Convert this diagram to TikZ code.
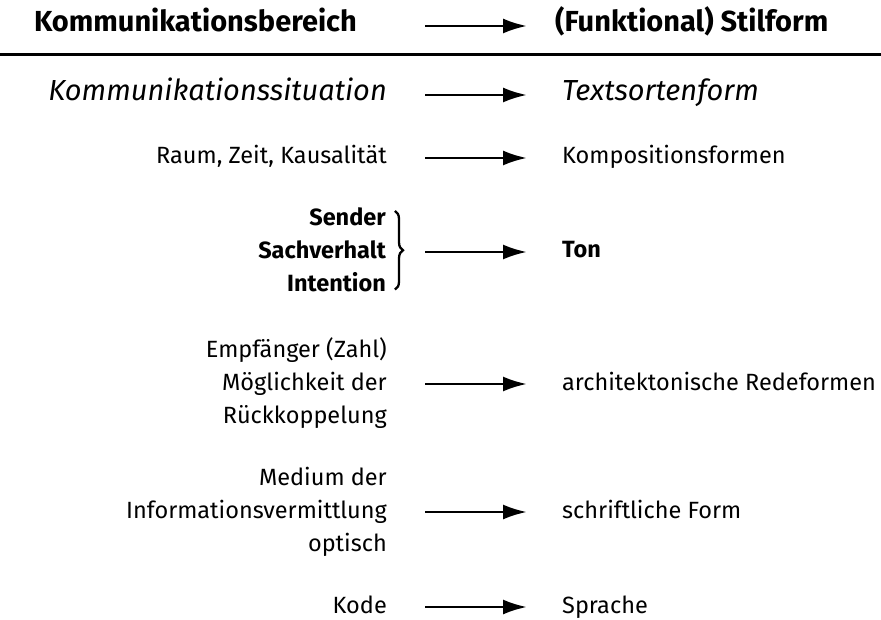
\documentclass[tikz,border=0pt]{standalone}
\usepackage{fontspec}
\setmainfont{Fira Sans}
\usetikzlibrary{arrows.meta,decorations.pathreplacing}

\tikzset{
  kopf/.style={inner sep=0pt, font=\fontsize{29}{33}\selectfont\bfseries},
  kursiv/.style={inner sep=0pt, font=\fontsize{29}{33}\selectfont\itshape},
  links/.style={inner sep=0pt, anchor=base east, align=right, font=\fontsize{23.5}{33}\selectfont},
  rechts/.style={inner sep=0pt, anchor=base west, font=\fontsize{23.5}{33}\selectfont},
  pfeil/.style={-{Latex[length=24pt,width=15pt]}, line width=2.6pt,
    shorten <=38pt, shorten >=35pt, transform canvas={yshift=6pt}},
  klammer/.style={decorate, decoration={brace,amplitude=8pt}, line width=2.3pt}
}

\begin{document}
\begin{tikzpicture}[x=1pt,y=-1pt]
\useasboundingbox (0,0) rectangle (881,620);

\node (h1) at (357,32) [kopf, anchor=base east] {Kommunikationsbereich};
\node (h2) at (555,32) [kopf, anchor=base west] {(Funktional) Stilform};
\draw[pfeil, shorten <=68pt, shorten >=28pt] (h1.east |- h2.base) -- (h2.base west);

\draw[line width=3pt] (0,55) -- (881,55);

\node (l2) at (387,101) [kursiv, anchor=base east] {Kommunikationssituation};
\node (r2) at (562,101) [kursiv, anchor=base west] {Textsortenform};
\draw[pfeil] (l2.east |- r2.base) -- (r2.base west);

\node (l3) at (387,164) [links] {Raum, Zeit, Kausalität};
\node (r3) at (562,164) [rechts] {Kompositionsformen};
\draw[pfeil] (l3.east |- r3.base) -- (r3.base west);

\node (l4) at (386,292) [links, font=\fontsize{23.5}{33}\selectfont\bfseries] {Sender\\Sachverhalt\\Intention};
\node (r4) at (562,258) [rechts, font=\fontsize{23.5}{33}\selectfont\bfseries] {Ton};
\draw[klammer] ([xshift=9pt,yshift=-3pt]l4.north east) -- ([xshift=9pt,yshift=3pt]l4.south east);
\draw[pfeil] (l3.east |- r4.base) -- (r4.base west);

\node (l5) at (387,423) [links] {Empfänger (Zahl)\\Möglichkeit der\\Rückkoppelung};
\node (r5) at (562,390) [rechts] {architektonische Redeformen};
\draw[pfeil] (l5.east |- r5.base) -- (r5.base west);

\node (l6) at (387,551) [links] {Medium der\\Informationsvermittlung\\optisch};
\node (r6) at (562,518) [rechts] {schriftliche Form};
\draw[pfeil] (l6.east |- r6.base) -- (r6.base west);

\node (l7) at (387,613) [links] {Kode};
\node (r7) at (562,613) [rechts] {Sprache};
\draw[pfeil] (l7.east |- r7.base) -- (r7.base west);

\end{tikzpicture}
\end{document}
